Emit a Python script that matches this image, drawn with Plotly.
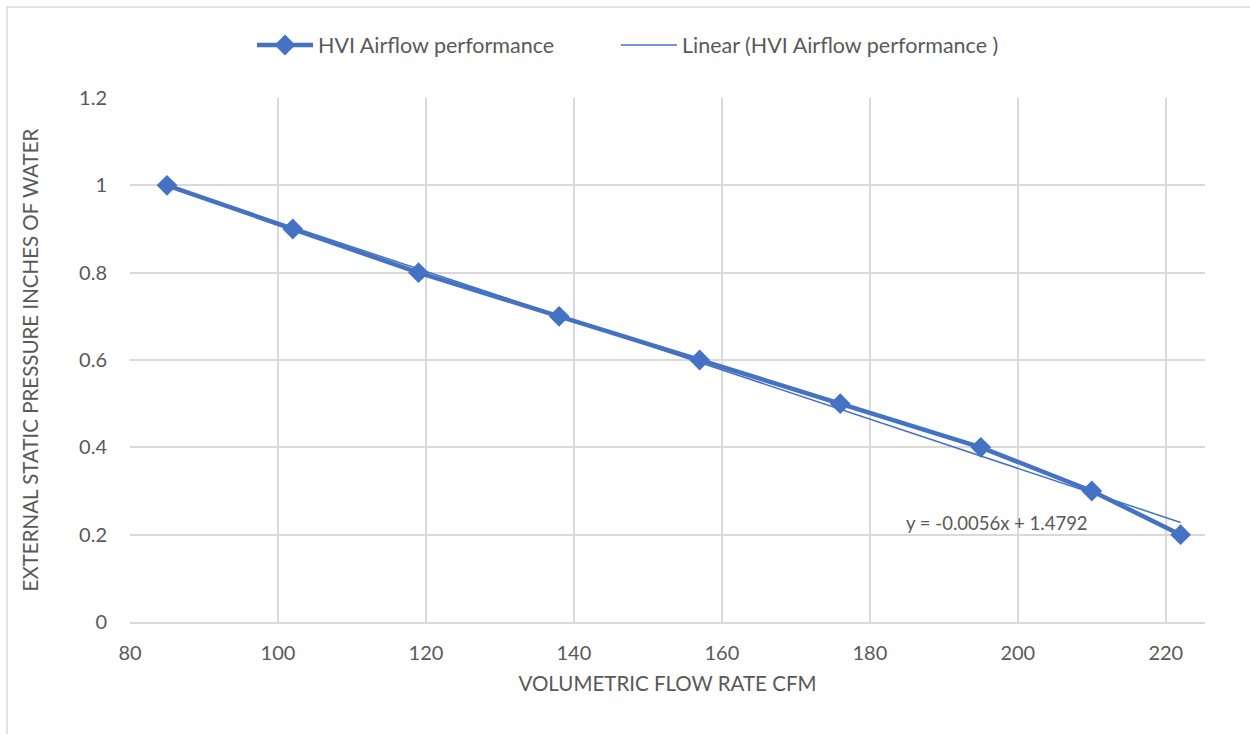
import numpy as np
import plotly.graph_objects as go

flow_cfm = [85, 102, 119, 138, 157, 176, 195, 210, 222]
pressure = [1.0, 0.9, 0.8, 0.7, 0.6, 0.5, 0.4, 0.3, 0.2]
x_ticks = [80, 100, 120, 140, 160, 180, 200, 220]
y_ticks = [0, 0.2, 0.4, 0.6, 0.8, 1.0, 1.2]
y_tick_labels = ["0", "0.2", "0.4", "0.6", "0.8", "1", "1.2"]

slope, intercept = np.polyfit(flow_cfm, pressure, 1)
trend_x = [min(flow_cfm), max(flow_cfm)]
trend_y = [slope * v + intercept for v in trend_x]
eq_text = f"y = {slope:.4f}x + {intercept:.4f}"

BLUE = "#4472C4"
GRID = "#D9D9D9"
TXT = "#595959"
FONT = "Lato"

fig = go.Figure()
fig.add_trace(go.Scatter(
    x=flow_cfm, y=pressure, mode="lines+markers",
    name="HVI Airflow performance",
    line=dict(color=BLUE, width=4.5),
    marker=dict(symbol="diamond", size=16, color=BLUE),
    legend="legend",
))
fig.add_trace(go.Scatter(
    x=trend_x, y=trend_y, mode="lines",
    name="Linear (HVI Airflow performance )",
    line=dict(color=BLUE, width=1.5),
    legend="legend2",
))

fig.add_annotation(
    x=197.2, y=0.227, xref="x", yref="y", text=eq_text,
    showarrow=False, xanchor="center", yanchor="middle",
    font=dict(family=FONT, size=18.5, color=TXT),
)

W, H = 1250, 734
L, R, T, B = 130, 45, 98, 112
pw, ph = W - L - R, H - T - B
fig.add_shape(
    type="rect", xref="paper", yref="paper",
    x0=(7 - L) / pw, x1=(W + 10 - L) / pw,
    y0=-(B + 10) / ph, y1=(H - B - 7) / ph,
    line=dict(color="#D9D9D9", width=1.5), fillcolor="rgba(0,0,0,0)",
    layer="below",
)

leg_common = dict(orientation="h", xanchor="left",
                  y=1.0 + (98 - 45) / ph, yanchor="middle",
                  font=dict(family=FONT, size=21.5, color=TXT),
                  itemwidth=56, bgcolor="rgba(0,0,0,0)")

fig.update_layout(
    width=W, height=H,
    margin=dict(l=L, r=R, t=T, b=B),
    paper_bgcolor="white", plot_bgcolor="white",
    font=dict(family=FONT, size=20, color=TXT),
    showlegend=True,
    legend=dict(x=(252 - L) / pw, **leg_common),
    legend2=dict(x=(616 - L) / pw, **leg_common),
    xaxis=dict(
        range=[80, 225.3], tickvals=x_ticks, showgrid=True, gridcolor=GRID,
        gridwidth=1.5, zeroline=False, showline=True, linecolor=GRID, linewidth=1.5,
        ticks="", tickfont=dict(size=20, color=TXT), ticklabelstandoff=12,
        title=dict(text="VOLUMETRIC FLOW RATE CFM", font=dict(size=20.5, color=TXT), standoff=14),
    ),
    yaxis=dict(
        range=[0, 1.2], tickvals=y_ticks, ticktext=y_tick_labels, showgrid=True,
        gridcolor=GRID, gridwidth=1.5, zeroline=False, showline=False,
        ticks="", tickfont=dict(size=20, color=TXT), ticklabelstandoff=22,
        title=dict(text="EXTERNAL STATIC PRESSURE INCHES OF WATER",
                   font=dict(size=20.5, color=TXT), standoff=34),
    ),
)

fig.write_html("out.html")
